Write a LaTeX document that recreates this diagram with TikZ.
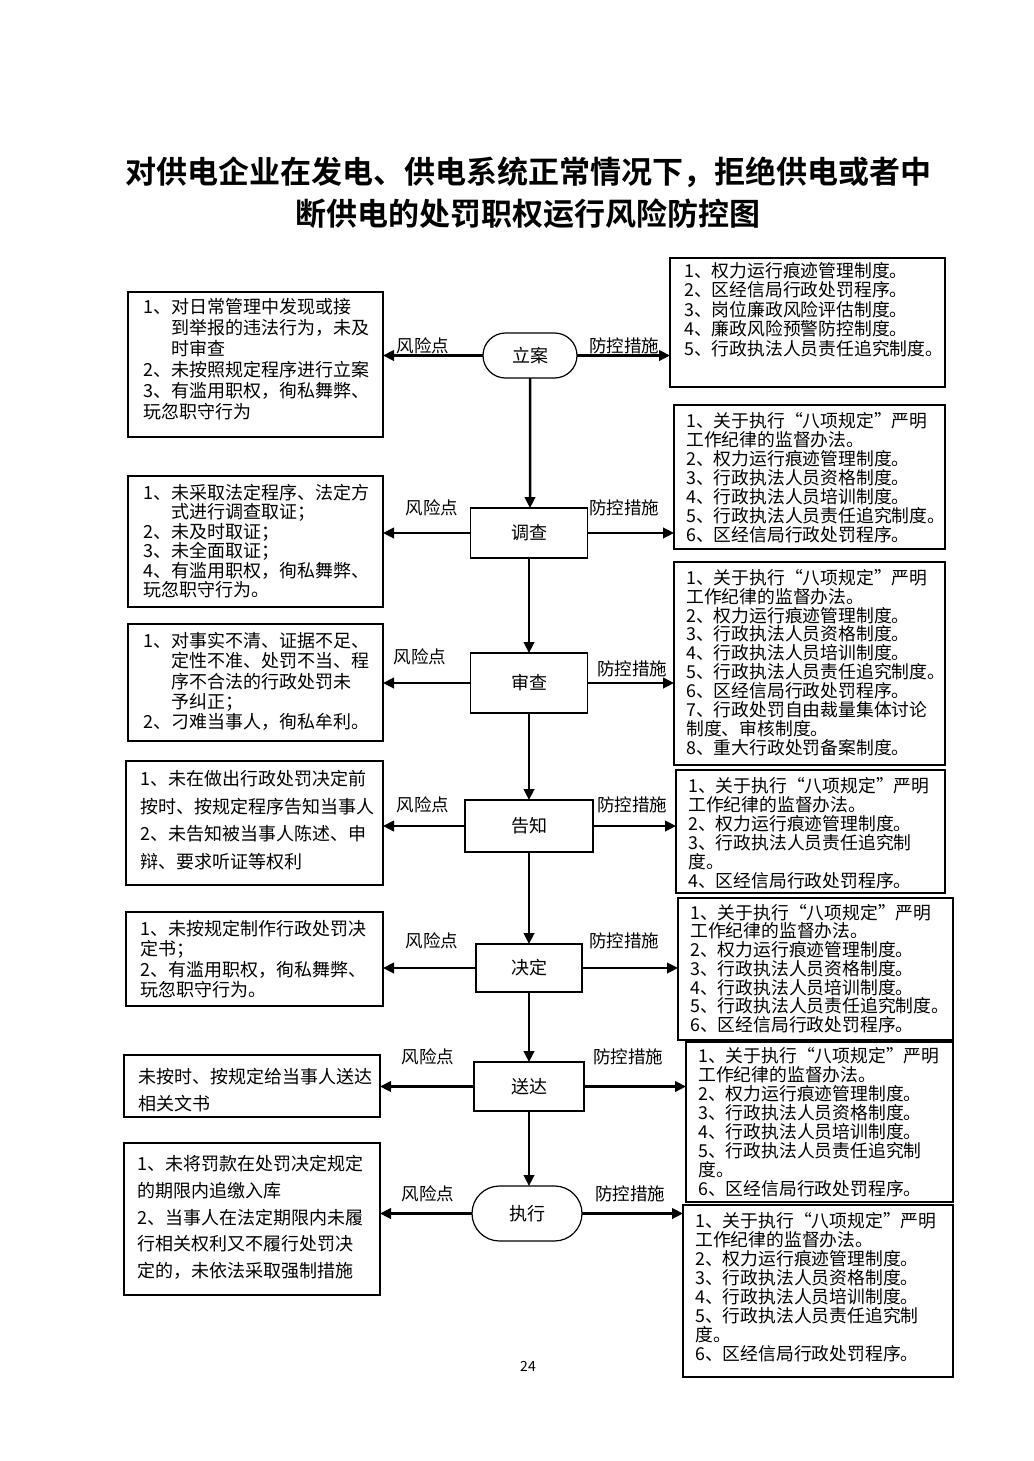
\documentclass[tikz,border=0pt]{standalone}
\usepackage{fontspec}
\setmainfont{Noto Sans CJK SC}[BoldFont={Noto Sans CJK SC Bold}]
\usetikzlibrary{arrows.meta,shapes.misc}
\newcommand\ind{\phantom{1、}}
\begin{document}
\begin{tikzpicture}[x=1pt,y=-1pt,
  box/.style={draw, line width=1.2pt, inner sep=0pt, outer sep=0pt, anchor=north west},
  step box/.style={draw, line width=1.2pt, inner sep=0pt, outer sep=0pt, font=\fontsize{18}{20}\selectfont},
  term box/.style={step box, rounded rectangle},
  ltext/.style={font=\fontsize{18}{#1}\selectfont, align=left, inner sep=0pt, anchor=north west},
  rtext/.style={font=\fontsize{17.8}{#1}\selectfont, align=left, inner sep=0pt, anchor=north west},
  lab/.style={font=\fontsize{17.5}{18}\selectfont, inner sep=0pt},
  arr/.style={line width=2.5pt, -{Triangle[length=11pt,width=10.5pt]}}
]
\fill[white] (0,0) rectangle (1033,1461);
\useasboundingbox (0,0) rectangle (1033,1461);

% title
\node[font=\fontsize{31}{31}\selectfont\bfseries] (t1) at (528,172) {对供电企业在发电、供电系统正常情况下，拒绝供电或者中};
\node[font=\fontsize{31}{31}\selectfont\bfseries] (t2) at (528,214) {断供电的处罚职权运行风险防控图};

% centre steps
\node[term box, minimum width=94pt, minimum height=45pt] (lian) at (530,355.5) {立案};
\node[step box, minimum width=117pt, minimum height=50pt] (diaocha) at (529,533) {调查};
\node[step box, minimum width=117pt, minimum height=60pt] (shencha) at (529,683) {审查};
\node[step box, minimum width=128pt, minimum height=52pt] (gaozhi) at (529,826) {告知};
\node[step box, minimum width=106pt, minimum height=48pt] (jueding) at (529,968) {决定};
\node[step box, minimum width=110pt, minimum height=49pt] (songda) at (529,1086.5) {送达};
\node[term box, minimum width=110pt, minimum height=55pt] (zhixing) at (527,1213.5) {执行};

% left boxes
\node[box, minimum width=255pt, minimum height=145pt] (L1) at (128,292) {};
\node[box, minimum width=255pt, minimum height=131pt] (L2) at (128,476) {};
\node[box, minimum width=255pt, minimum height=117pt] (L3) at (128,624) {};
\node[box, minimum width=257pt, minimum height=124pt] (L4) at (126,761) {};
\node[box, minimum width=257pt, minimum height=94pt] (L5) at (126,912) {};
\node[box, minimum width=256pt, minimum height=62pt] (L6) at (124,1055) {};
\node[box, minimum width=256pt, minimum height=152pt] (L7) at (124,1143) {};

\node[ltext=21] (L1t) at (143,298) {1、对日常管理中发现或接\\ \ind 到举报的违法行为，未及\\ \ind 时审查\\ 2、未按照规定程序进行立案\\ 3、有滥用职权，徇私舞弊、\\ 玩忽职守行为};
\node[ltext=19.5] (L2t) at (143,484) {1、未采取法定程序、法定方\\ \ind 式进行调查取证；\\ 2、未及时取证；\\ 3、未全面取证；\\ 4、有滥用职权，徇私舞弊、\\ 玩忽职守行为。};
\node[ltext=20.3] (L3t) at (143,632) {1、对事实不清、证据不足、\\ \ind 定性不准、处罚不当、程\\ \ind 序不合法的行政处罚未\\ \ind 予纠正；\\ 2、刁难当事人，徇私牟利。};
\node[ltext=27.7] (L4t) at (140,770) {1、未在做出行政处罚决定前\\ 按时、按规定程序告知当事人\\ 2、未告知被当事人陈述、申\\ 辩、要求听证等权利};
\node[ltext=20.3] (L5t) at (140,920) {1、未按规定制作行政处罚决\\ 定书；\\ 2、有滥用职权，徇私舞弊、\\ 玩忽职守行为。};
\node[ltext=27] (L6t) at (138,1068) {未按时、按规定给当事人送达\\ 相关文书};
\node[ltext=26.8] (L7t) at (137,1155) {1、未将罚款在处罚决定规定\\ 的期限内追缴入库\\ 2、当事人在法定期限内未履\\ 行相关权利又不履行处罚决\\ 定的，未依法采取强制措施};

% right boxes
\node[box, minimum width=275pt, minimum height=129pt] (R1) at (670,258) {};
\node[box, minimum width=271pt, minimum height=144pt] (R2) at (674,405) {};
\node[box, minimum width=271pt, minimum height=203pt] (R3) at (674,562) {};
\node[box, minimum width=269pt, minimum height=123pt] (R4) at (676,770) {};
\node[box, minimum width=275pt, minimum height=142pt] (R5) at (678,898) {};
\node[box, minimum width=267pt, minimum height=160pt] (R6) at (686,1042) {};
\node[box, minimum width=270pt, minimum height=172pt] (R7) at (683,1205) {};

\node[rtext=19.5] (R1t) at (684,262) {1、权力运行痕迹管理制度。\\ 2、区经信局行政处罚程序。\\ 3、岗位廉政风险评估制度。\\ 4、廉政风险预警防控制度。\\ 5、行政执法人员责任追究制度。};
\node[rtext=19] (R2t) at (686,412) {1、关于执行“八项规定”严明\\ 工作纪律的监督办法。\\ 2、权力运行痕迹管理制度。\\ 3、行政执法人员资格制度。\\ 4、行政执法人员培训制度。\\ 5、行政执法人员责任追究制度。\\ 6、区经信局行政处罚程序。};
\node[rtext=18.9] (R3t) at (686,569) {1、关于执行“八项规定”严明\\ 工作纪律的监督办法。\\ 2、权力运行痕迹管理制度。\\ 3、行政执法人员资格制度。\\ 4、行政执法人员培训制度。\\ 5、行政执法人员责任追究制度。\\ 6、区经信局行政处罚程序。\\ 7、行政处罚自由裁量集体讨论\\ 制度、审核制度。\\ 8、重大行政处罚备案制度。};
\node[rtext=19] (R4t) at (688,777) {1、关于执行“八项规定”严明\\ 工作纪律的监督办法。\\ 2、权力运行痕迹管理制度。\\ 3、行政执法人员责任追究制\\ 度。\\ 4、区经信局行政处罚程序。};
\node[rtext=18.7] (R5t) at (690,904) {1、关于执行“八项规定”严明\\ 工作纪律的监督办法。\\ 2、权力运行痕迹管理制度。\\ 3、行政执法人员资格制度。\\ 4、行政执法人员培训制度。\\ 5、行政执法人员责任追究制度。\\ 6、区经信局行政处罚程序。};
\node[rtext=19.1] (R6t) at (698,1047) {1、关于执行“八项规定”严明\\ 工作纪律的监督办法。\\ 2、权力运行痕迹管理制度。\\ 3、行政执法人员资格制度。\\ 4、行政执法人员培训制度。\\ 5、行政执法人员责任追究制\\ 度。\\ 6、区经信局行政处罚程序。};
\node[rtext=19] (R7t) at (695,1212) {1、关于执行“八项规定”严明\\ 工作纪律的监督办法。\\ 2、权力运行痕迹管理制度。\\ 3、行政执法人员资格制度。\\ 4、行政执法人员培训制度。\\ 5、行政执法人员责任追究制\\ 度。\\ 6、区经信局行政处罚程序。};

% vertical flow
\draw[arr] (lian) -- (lian |- diaocha.north);
\draw[arr] (diaocha) -- (shencha);
\draw[arr] (shencha) -- (gaozhi);
\draw[arr] (gaozhi) -- (jueding);
\draw[arr] (jueding) -- (songda);
\draw[arr] (songda.south) -- (songda.south |- zhixing.north);

% horizontal arrows
\foreach \n/\l/\r in {lian/L1/R1, diaocha/L2/R2, shencha/L3/R3, gaozhi/L4/R4, jueding/L5/R5, songda/L6/R6, zhixing/L7/R7}{
  \draw[arr] (\n.west) -- (\n.west -| \l.east);
  \draw[arr] (\n.east) -- (\n.east -| \r.west);
}

% labels
\node[lab] (f1) at (423,346) {风险点};
\node[lab] (c1) at (624,346) {防控措施};
\node[lab] (f2) at (432,508) {风险点};
\node[lab] (c2) at (624,508) {防控措施};
\node[lab] (f3) at (420,657) {风险点};
\node[lab] (c3) at (632,669) {防控措施};
\node[lab] (f4) at (423,805) {风险点};
\node[lab] (c4) at (632,805) {防控措施};
\node[lab] (f5) at (432,941) {风险点};
\node[lab] (c5) at (624,941) {防控措施};
\node[lab] (f6) at (428,1057) {风险点};
\node[lab] (c6) at (628,1057) {防控措施};
\node[lab] (f7) at (428,1194) {风险点};
\node[lab] (c7) at (630,1194) {防控措施};

\node[font=\fontsize{14}{14}\selectfont] (pg) at (528,1366) {24};
\end{tikzpicture}
\end{document}
